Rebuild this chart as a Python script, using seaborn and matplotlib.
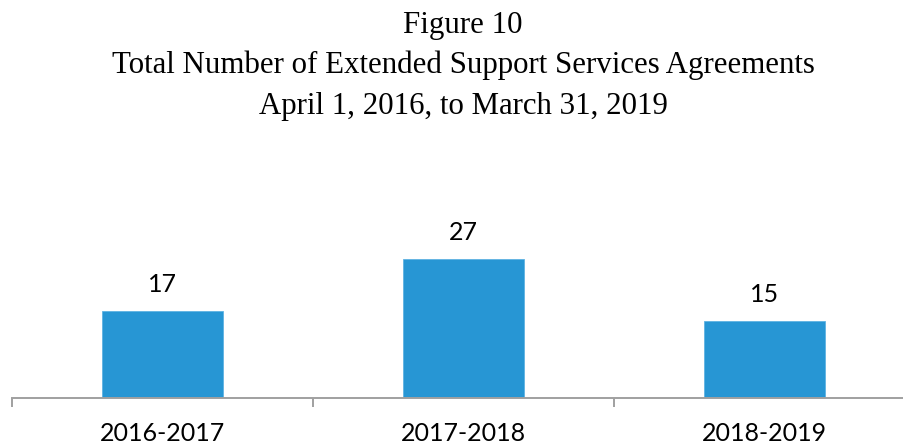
import matplotlib
matplotlib.use("Agg")
import matplotlib.pyplot as plt
import seaborn as sns
import pandas as pd

# Data
periods = ["2016-2017", "2017-2018", "2018-2019"]
agreements = [17, 27, 15]

title_lines = [
    "Figure 10",
    "Total Number of Extended Support Services Agreements",
    "April 1, 2016, to March 31, 2019",
]

BAR_COLOR = "#2796d4"
AXIS_COLOR = "#a0a0a0"

sns.set_theme(style="white")
plt.rcParams["font.family"] = ["Lato", "DejaVu Sans"]

df = pd.DataFrame({"period": periods, "agreements": agreements})

fig = plt.figure(figsize=(9.04, 4.46), dpi=100)
W, H = 904, 446
# axes spanning three 301-px category slots starting at x=12, baseline at y=398
ax = fig.add_axes([12 / W, 48 / H, 903 / W, 154 / H])

sns.barplot(data=df, x="period", y="agreements", color=BAR_COLOR,
            width=0.4, saturation=1, ax=ax, edgecolor="#5fb3e3", linewidth=0.6)

ax.set_xlim(-0.5, 2.5)
ax.set_ylim(0, 30)
ax.set_xlabel("")
ax.set_ylabel("")
ax.set_yticks([])

for s in ["top", "right", "left"]:
    ax.spines[s].set_visible(False)
ax.spines["bottom"].set_color(AXIS_COLOR)
ax.spines["bottom"].set_linewidth(1.4)

# category labels without tick marks; tick marks at category boundaries
ax.set_xticks(range(len(periods)))
ax.set_xticklabels(periods, fontsize=18, color="#000000", family=["Lato", "DejaVu Sans"])
ax.tick_params(axis="x", which="major", bottom=True, length=0, pad=17.5)
ax.set_xticks([-0.5, 0.5, 1.5, 2.5], minor=True)
ax.tick_params(axis="x", which="minor", bottom=True, length=6.5, width=1.4,
               color=AXIS_COLOR, direction="out")

# value labels
for i, v in enumerate(agreements):
    ax.annotate(str(v), xy=(i, v), xytext=(0, 13.7), textcoords="offset points",
                ha="center", va="baseline", fontsize=18, color="#000000",
                family=["Lato", "DejaVu Sans"])

# title block (baselines in pixels from the top)
baselines = [33, 73, 114]
for line, y in zip(title_lines, baselines):
    fig.text(463 / W, 1 - y / H, line, ha="center", va="baseline", fontsize=22.2,
             family=["Liberation Serif", "DejaVu Serif"], color="#000000")

fig.savefig("out.png", dpi=100)
